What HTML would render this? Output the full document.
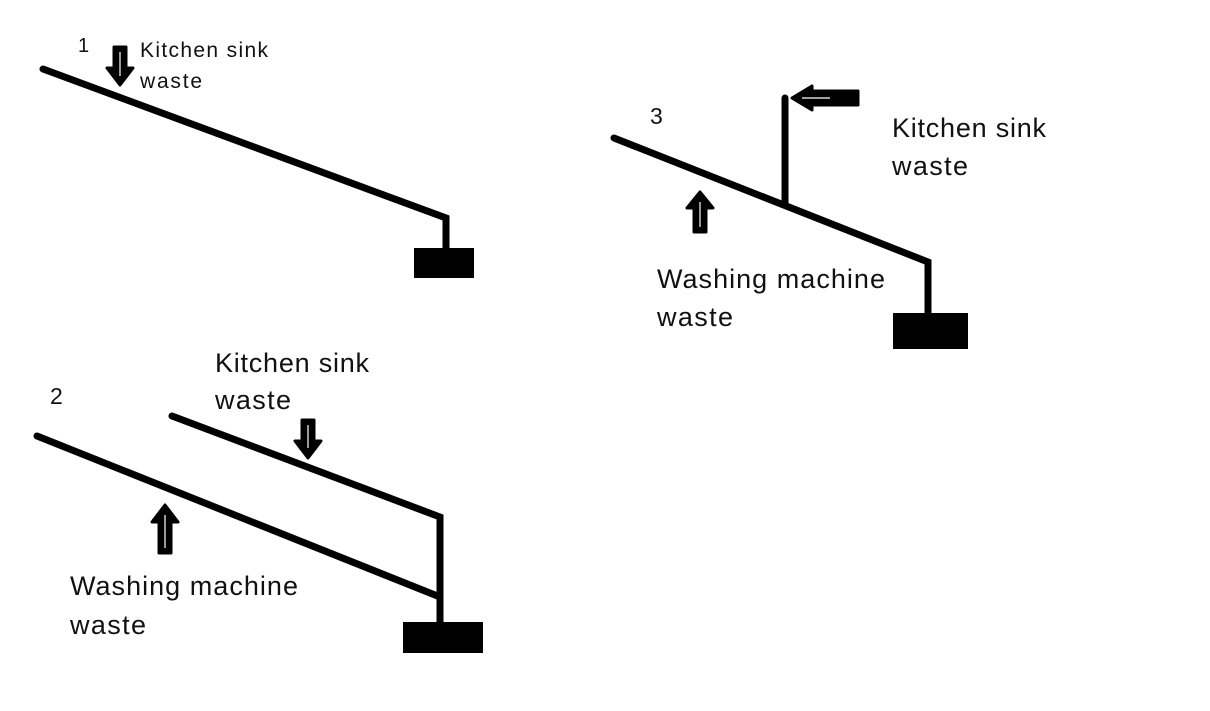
<!DOCTYPE html>
<html><head><style>html,body{margin:0;padding:0;background:#fff}svg{display:block}text{font-family:"Liberation Sans",sans-serif;fill:#111}</style></head>
<body>
<svg width="1210" height="711" viewBox="0 0 1210 711" xmlns="http://www.w3.org/2000/svg">
<g stroke="#000" stroke-width="7" stroke-linecap="round" fill="none">
<polyline points="43,69 446,218 446,250"/>
<polyline points="614,138 928,262 928,313"/>
<line x1="785" y1="98" x2="785" y2="205"/>
<line x1="37" y1="436" x2="440" y2="597"/>
<polyline points="172,416 440,517 440,622"/>
</g>
<rect x="414" y="248" width="60" height="30" fill="#000"/>
<rect x="893" y="313" width="75" height="36" fill="#000"/>
<rect x="403" y="622" width="80" height="31" fill="#000"/>
<g stroke="#000" stroke-width="3" stroke-linejoin="round">
<polygon points="120,85 107,68 114,68 114,47 126,47 126,68 133,68" fill="#000"/>
<polygon points="308,458 295,441 302,441 302,420 314,420 314,441 321,441" fill="#000"/>
<polygon points="165,505 178,522 171,522 171,553 159,553 159,522 152,522" fill="#000"/>
<polygon points="700,192 713,208 706,208 706,232 694,232 694,208 687,208" fill="#000"/>
<polygon points="792,98 812,86 812,91 858,91 858,105 812,105 812,110" fill="#000"/>
</g>
<g stroke="#fff" stroke-width="1.2">
<line x1="120" y1="52" x2="120" y2="76"/>
<line x1="308" y1="425" x2="308" y2="448"/>
<line x1="165" y1="515" x2="165" y2="548"/>
<line x1="700" y1="202" x2="700" y2="227"/>
<line x1="802" y1="98" x2="830" y2="98"/>
</g>
<text x="78" y="52" font-size="20">1</text>
<text x="140" y="57" font-size="21" textLength="128">Kitchen sink</text>
<text x="140" y="88" font-size="21" textLength="62">waste</text>
<text x="650" y="124" font-size="23">3</text>
<text x="892" y="137" font-size="27" textLength="154">Kitchen sink</text>
<text x="892" y="175" font-size="27" textLength="76">waste</text>
<text x="657" y="288" font-size="27" textLength="228">Washing machine</text>
<text x="657" y="326" font-size="27" textLength="76">waste</text>
<text x="50" y="404" font-size="23">2</text>
<text x="215" y="372" font-size="27" textLength="154">Kitchen sink</text>
<text x="215" y="409" font-size="27" textLength="76">waste</text>
<text x="70" y="595" font-size="27" textLength="228">Washing machine</text>
<text x="70" y="634" font-size="27" textLength="76">waste</text>
</svg>
</body></html>
